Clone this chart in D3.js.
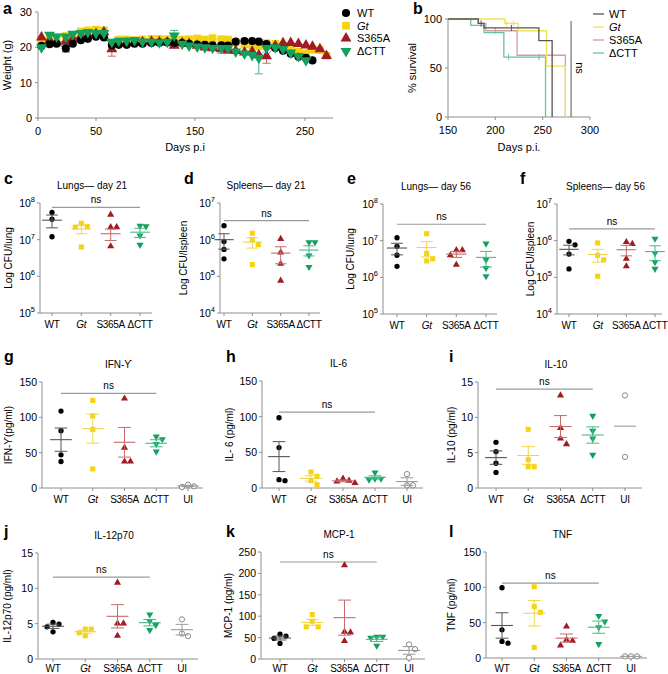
<!DOCTYPE html>
<html>
<head>
<meta charset="utf-8">
<title>Figure</title>
<script src="https://d3js.org/d3.v7.min.js"></script>
<style>
  body { margin: 0; background: #fff; }
  svg { font-family: "Liberation Sans", Arial, Helvetica, sans-serif; }
</style>
</head>
<body>
<svg width="668" height="674" id="mainSvg"></svg>
<script>
// ---------- data ----------
const groups = ["WT", "Gt", "S365A", "ΔCTT"];
const cytoGroups = ["WT", "Gt", "S365A", "ΔCTT", "UI"];

// panel a: body weight
const weightDays = [3, 10, 16, 24, 30, 37, 43, 50, 58, 66, 73, 81, 89, 97, 106, 114, 122, 129, 137, 144,
  152, 159, 166, 174, 180, 187, 195, 202, 208, 215, 223, 230, 237, 244, 251, 258, 266, 273];
const weightWT = [20.4, 20.9, 21.0, 19.7, 21.0, 22.0, 22.4, 23.0, 22.8, 20.6, 20.7, 20.7, 21.0, 21.0, 21.2, 21.3, 21.4, 21.3, 21.2, 21.0,
  20.8, 20.7, 20.6, 20.6, 20.5, 21.6, 21.8, 21.8, 21.6, 20.9, 19.8, 19.0, 18.2, 17.3, 17.0, 16.3, null, null];
const weightGt = [21.5, 22.5, 22.8, 23.2, 23.5, 24.5, 24.8, 25.0, 24.8, 21.0, 22.2, 22.2, 22.0, 22.2, 22.4, 22.4, 22.3, 22.0, 22.2, 22.3,
  22.5, 22.2, 22.6, 22.3, 22.2, 21.4, 20.8, 20.6, 20.3, 21.2, 21.0, 20.4, 19.8, 18.8, 18.2, 19.3, 19.2, 17.6];
const weightS365A = [22.8, 22.0, 21.5, 21.8, 22.5, 23.2, 23.5, 23.8, 24.3, 19.5, 21.0, 21.2, 21.3, 21.5, 21.6, 21.5, 21.4, 20.5, 21.2, 21.0,
  20.5, 20.0, 19.8, 19.5, 19.2, 19.0, 18.6, 18.8, 17.8, 17.5, 20.4, 21.2, 21.3, 21.0, 20.6, 20.2, 19.5, 17.6];
const weightDCTT = [20.0, 23.5, 23.0, 23.0, 23.8, 24.0, 24.3, 24.0, 24.0, 21.5, 21.8, 21.8, 22.0, 21.6, 21.5, 21.4, 21.5, 23.3, 21.0, 20.5,
  20.2, 20.0, 19.8, 19.8, 19.8, 18.8, 18.2, 17.8, 17.0, 19.8, 20.0, 19.5, 18.5, 17.5, 16.3, null, null, null];
// the larger error bars that show in panel a
const errSeries = ["ΔCTT", "S365A", "S365A", "ΔCTT", "WT", "ΔCTT", "ΔCTT", "Gt"];
const errDays = [208, 66, 215, 129, 24, 174, 180, 251];
const errSize = [4.5, 2.0, 2.0, 1.5, 1.0, 1.5, 1.5, 1.0];

// panel b: survival (WT, Gt, S365A, ΔCTT)
const kmDays = [
  [150, 182, 188, 246, 260],
  [150, 210, 224, 254, 274],
  [150, 182, 190, 223, 274],
  [150, 174, 188, 209, 253]
];
const kmPct = [
  [100, 95.5, 91, 78, 0],
  [100, 95.5, 88, 52, 0],
  [100, 95.5, 88, 63, 0],
  [100, 93.5, 86, 61, 0]
];
const censorDays = [[185, 217], [212, 219], [200], [214, 246]];
const censorPct = [[95.5, 91], [95.5, 95.5], [88], [61, 61]];

// panels c-f: CFU
const lung21 = [[5.5e7, 3.6e7, 1.2e7], [2.3e7, 2.2e7, 2.8e7, 6.3e6], [4.8e7, 2.2e7, 2.2e7, 6.6e6], [2.3e7, 2.4e7, 1.3e7, 7.2e6]];
const lung21Mean = [3.4e7, 1.95e7, 1.45e7, 1.6e7];
const lung21Sem = [1.3e7, 0.5e7, 0.5e7, 0.45e7];
const spleen21 = [[2.4e6, 8.9e5, 5.4e5, 3.0e5], [1.5e6, 1.0e6, 7.3e5, 2.1e5], [1.05e6, 4.5e5, 2.2e5, 7.6e4], [8.5e5, 8.5e5, 3.7e5, 1.8e5]];
const spleen21Mean = [1.0e6, 8.6e5, 4.3e5, 5.2e5];
const spleen21Sem = [4.5e5, 2.7e5, 2.1e5, 1.6e5];
const lung56 = [[1.2e7, 7e6, 4e6, 2e6], [1.55e7, 4.5e6, 2.8e6, 3.2e6], [5.5e6, 5.5e6, 4e6, 2.2e6], [8.3e6, 3e6, 1.8e6, 1.07e6]];
const lung56Mean = [6.3e6, 6.5e6, 4.3e6, 3.5e6];
const lung56Sem = [2.2e6, 2.9e6, 0.8e6, 1.6e6];
const spleen56 = [[7.7e5, 9.6e5, 4.3e5, 1.7e5], [8.7e5, 4e5, 3e5, 1.07e5], [8.2e5, 9.2e5, 3.2e5, 2e5], [1.13e6, 4.6e5, 2.6e5, 1.7e5]];
const spleen56Mean = [5.8e5, 4.2e5, 5.65e5, 5.05e5];
const spleen56Sem = [1.7e5, 1.6e5, 1.8e5, 2.2e5];

// panels g-l: cytokines (pg/ml)
const ifng = [[108.8, 81, 47, 37.5], [124, 102, 83, 27], [126.6, 57, 37.5, 37.5], [69, 72.7, 62.3, 51.6], [2.3, 4.7, 1.4]];
const ifngMean = [68.4, 84, 64.7, 63.3, 2.8];
const ifngSem = [16.5, 20.5, 21, 5, 1];
const il6 = [[98.5, 56.7, 10.2, 11.6], [22.3, 16.3, 4.6, 10.2], [13, 10.2, 7, 9.3], [21.8, 11.6, 13, 13], [19.5, 3.7, 3.7]];
const il6Mean = [44, 13.4, 10, 14.9, 9];
const il6Sem = [21, 3.8, 1.3, 2.3, 5.3];
const il10 = [[6.47, 5.16, 3.5, 2.2], [8.3, 4.0, 3.0, 3.0], [13.1, 8.5, 7.0, 6.2], [10.2, 8.1, 7.0, 4.7], [13.1, 4.4]];
const il10Mean = [4.3, 4.6, 8.7, 7.5, 8.75];
const il10Sem = [0.95, 1.25, 1.55, 1.15, null];
const il12 = [[5.17, 4.56, 4.94, 3.85], [4.23, 4.23, 3.7, 3.29], [10.8, 5.03, 5.03, 3.29], [6.3, 5.36, 4.8, 4.1], [5.6, 3.24, 3.6]];
const il12Mean = [4.63, 3.86, 6.04, 5.14, 4.15];
const il12Sem = [0.3, 0.22, 1.65, 0.46, 0.75];
const mcp1 = [[53.5, 58, 48, 36.5], [104, 88, 75, 75], [219, 63.6, 62, 41.9], [52, 49.7, 52, 31], [34, 23, 3]];
const mcp1Mean = [49, 85.5, 96.6, 46, 20];
const mcp1Sem = [4.6, 7, 41, 5, 9];
const tnf = [[99.4, 39.8, 21, 23.4], [100.8, 72.7, 64.7, 15], [44.5, 25.8, 24.4, 17.8], [59.5, 51.6, 43.6, 19.7], [2.3, 2.3, 2.3]];
const tnfMean = [46, 63.3, 28.1, 43.6, 2.3];
const tnfSem = [18, 18, 5.8, 8.6, 0];

// ---------- styles ----------
const markColor = { "WT": "#000", "Gt": "#f4d40f", "S365A": "#a01b22", "ΔCTT": "#12a05c", "UI": "#8a8a8a" };
const barColor = { "WT": "#555", "Gt": "#efd548", "S365A": "#c76a6a", "ΔCTT": "#47b88a", "UI": "#999" };
const kmColor = ["#555", "#f2e255", "#d59c9c", "#66c4a0"];
const axisColor = "#8e8e8e";
const symType = { "WT": d3.symbolCircle, "Gt": d3.symbolSquare, "S365A": d3.symbolTriangle, "ΔCTT": d3.symbolTriangle, "UI": d3.symbolCircle };

const svg = d3.select("#mainSvg");

const addMark = function (g, grp, x, y, size) {
  const p = g.append("path")
    .attr("d", d3.symbol().type(symType[grp]).size(size)())
    .attr("transform", `translate(${x},${y})` + (grp === "ΔCTT" ? " rotate(180)" : ""));
  if (grp === "UI") {
    p.attr("fill", "#fff").attr("stroke", markColor.UI).attr("stroke-width", 1);
  } else {
    p.attr("fill", markColor[grp]);
  }
  return p;
};

const groupText = function (sel, grp) {
  sel.text(grp).attr("font-style", grp === "Gt" ? "italic" : "normal");
};

const letter = function (t, x, y) {
  svg.append("text").attr("x", x).attr("y", y).attr("font-size", 16).attr("font-weight", "bold").text(t);
};

const yTitle = function (t, x, y, fs) {
  svg.append("text").attr("transform", `translate(${x},${y}) rotate(-90)`)
    .attr("text-anchor", "middle").attr("dominant-baseline", "central")
    .attr("font-size", fs || 11).text(t);
};

// ---------- panel a ----------
{
  const x = d3.scaleLinear().domain([0, 50, 150, 250, 280]).range([38, 96, 195, 305, 333]);
  const y = d3.scaleLinear().domain([0, 30]).range([118, 12]);
  const g = svg.append("g");
  g.append("line").attr("x1", 38).attr("x2", 38).attr("y1", y(30)).attr("y2", y(0)).attr("stroke", axisColor);
  g.append("line").attr("x1", 38).attr("x2", x(280)).attr("y1", y(0)).attr("y2", y(0)).attr("stroke", axisColor);
  [0, 10, 20, 30].forEach(v => {
    g.append("line").attr("x1", 35).attr("x2", 38).attr("y1", y(v)).attr("y2", y(v)).attr("stroke", axisColor);
    g.append("text").attr("x", 32).attr("y", y(v) + 4).attr("text-anchor", "end").attr("font-size", 11).text(v);
  });
  [0, 50, 150, 250].forEach(v => {
    g.append("line").attr("x1", x(v)).attr("x2", x(v)).attr("y1", 118).attr("y2", 121).attr("stroke", axisColor);
    g.append("text").attr("x", x(v)).attr("y", 135).attr("text-anchor", "middle").attr("font-size", 11).text(v);
  });
  svg.append("text").attr("x", 185).attr("y", 151).attr("text-anchor", "middle").attr("font-size", 11).text("Days p.i");
  yTitle("Weight (g)", 7, 65);
  letter("a", 3, 14);

  const series = { "WT": weightWT, "Gt": weightGt, "S365A": weightS365A, "ΔCTT": weightDCTT };
  const drawOrder = ["Gt", "S365A", "WT", "ΔCTT"];
  const line = d3.line().defined(d => d[1] != null).x(d => x(d[0])).y(d => y(d[1]));
  drawOrder.forEach(k => {
    const pts = weightDays.map((d, i) => [d, series[k][i]]);
    g.append("path").attr("d", line(pts)).attr("fill", "none")
      .attr("stroke", k === "Gt" ? "#b9a21a" : markColor[k]).attr("stroke-width", 0.8).attr("opacity", 0.7);
  });
  errSeries.forEach((k, i) => {
    const w = series[k][weightDays.indexOf(errDays[i])];
    const cx = x(errDays[i]);
    g.append("line").attr("x1", cx).attr("x2", cx).attr("y1", y(w - errSize[i])).attr("y2", y(w + errSize[i]))
      .attr("stroke", barColor[k]).attr("stroke-width", 1);
    [w - errSize[i], w + errSize[i]].forEach(e => g.append("line").attr("x1", cx - 4).attr("x2", cx + 4)
      .attr("y1", y(e)).attr("y2", y(e)).attr("stroke", barColor[k]).attr("stroke-width", 1));
  });
  drawOrder.forEach(k => {
    weightDays.forEach((d, i) => {
      if (series[k][i] == null) return;
      addMark(g, k, x(d), y(series[k][i]), k === "Gt" ? 60 : 52);
    });
  });
  // legend
  groups.forEach((k, i) => {
    const ly = 13 + i * 12.7;
    addMark(svg, k, 346, ly, k === "Gt" ? 60 : 52);
    svg.append("text").attr("x", 357).attr("y", ly + 4).attr("font-size", 11).call(groupText, k);
  });
}

// ---------- panel b ----------
{
  const x = d3.scaleLinear().domain([150, 300]).range([448, 590]);
  const y = d3.scaleLinear().domain([0, 100]).range([117, 19]);
  const g = svg.append("g");
  g.append("line").attr("x1", 448).attr("x2", 448).attr("y1", y(100)).attr("y2", y(0)).attr("stroke", axisColor);
  g.append("line").attr("x1", 448).attr("x2", x(300)).attr("y1", y(0)).attr("y2", y(0)).attr("stroke", axisColor);
  [0, 50, 100].forEach(v => {
    g.append("line").attr("x1", 445).attr("x2", 448).attr("y1", y(v)).attr("y2", y(v)).attr("stroke", axisColor);
    g.append("text").attr("x", 442).attr("y", y(v) + 4).attr("text-anchor", "end").attr("font-size", 11).text(v);
  });
  [150, 200, 250, 300].forEach(v => {
    g.append("line").attr("x1", x(v)).attr("x2", x(v)).attr("y1", 117).attr("y2", 120).attr("stroke", axisColor);
    g.append("text").attr("x", x(v)).attr("y", 134).attr("text-anchor", "middle").attr("font-size", 11).text(v);
  });
  svg.append("text").attr("x", 519).attr("y", 151).attr("text-anchor", "middle").attr("font-size", 11).text("Days p.i.");
  yTitle("% survival", 412, 68);
  letter("b", 413, 14);

  const step = d3.line().curve(d3.curveStepAfter).x(d => x(d[0])).y(d => y(d[1]));
  [2, 3, 1, 0].forEach(i => {
    const pts = kmDays[i].map((d, j) => [d, kmPct[i][j]]);
    g.append("path").attr("d", step(pts)).attr("fill", "none").attr("stroke", kmColor[i]).attr("stroke-width", 1.3);
    censorDays[i].forEach((d, j) => {
      g.append("line").attr("x1", x(d)).attr("x2", x(d)).attr("y1", y(censorPct[i][j]) - 3).attr("y2", y(censorPct[i][j]) + 3)
        .attr("stroke", kmColor[i]).attr("stroke-width", 1);
    });
  });
  g.append("line").attr("x1", x(280)).attr("x2", x(280)).attr("y1", y(98)).attr("y2", y(0)).attr("stroke", "#555").attr("stroke-width", 1);
  svg.append("text").attr("transform", `translate(${x(280) + 5},${y(50)}) rotate(90)`)
    .attr("text-anchor", "middle").attr("font-size", 11).text("ns");
  groups.forEach((k, i) => {
    const ly = 14 + i * 13;
    svg.append("line").attr("x1", 593).attr("x2", 604).attr("y1", ly).attr("y2", ly).attr("stroke", kmColor[i]).attr("stroke-width", 1.3);
    svg.append("text").attr("x", 609).attr("y", ly + 4).attr("font-size", 11).call(groupText, k);
  });
}

// ---------- dot plots ----------
const swarm = function (vals, yScale, cx, d) {
  const pts = vals.map(v => ({ v: v, py: yScale(v) })).sort((a, b) => a.py - b.py);
  const placed = [];
  pts.forEach(o => {
    for (let k = 0; k < 20; k++) {
      const off = k === 0 ? 0 : (k % 2 ? 1 : -1) * Math.ceil(k / 2) * d;
      if (!placed.some(q => Math.abs(q.py - o.py) < d && Math.abs(q.px - (cx + off)) < d)) { o.px = cx + off; break; }
    }
    placed.push(o);
  });
  return pts;
};

const dotPanel = function (p) {
  const [x0, x1, top, bottom, c0, c1] = p.box;
  const y = p.log ? d3.scaleLog().domain(p.domain).range([bottom, top])
                  : d3.scaleLinear().domain(p.domain).range([bottom, top]);
  const x = d3.scalePoint().domain(p.cats).range([c0, c1]);
  const stepW = x.step();
  const g = svg.append("g");

  g.append("line").attr("x1", x0).attr("x2", x0).attr("y1", top).attr("y2", bottom).attr("stroke", axisColor);
  g.append("line").attr("x1", x0).attr("x2", x1).attr("y1", bottom).attr("y2", bottom).attr("stroke", axisColor);
  p.ticks.forEach(v => {
    g.append("line").attr("x1", x0 - 3).attr("x2", x0).attr("y1", y(v)).attr("y2", y(v)).attr("stroke", axisColor);
    const t = g.append("text").attr("x", x0 - 5).attr("y", y(v) + 4).attr("text-anchor", "end").attr("font-size", 10.5);
    if (p.log) {
      t.text("10");
      t.append("tspan").attr("dy", -5).attr("font-size", 7.5).text(Math.round(Math.log10(v)));
    } else {
      t.text(v);
    }
  });
  p.cats.forEach(c => {
    g.append("line").attr("x1", x(c)).attr("x2", x(c)).attr("y1", bottom).attr("y2", bottom + 3).attr("stroke", axisColor);
    g.append("text").attr("x", x(c)).attr("y", Math.min(bottom + 15, 672)).attr("text-anchor", "middle")
      .attr("font-size", 10).attr("letter-spacing", -0.3).call(groupText, c);
  });
  svg.append("text").attr("x", (x0 + x1) / 2 - 4).attr("y", top - 14).attr("text-anchor", "middle")
    .attr("font-size", 10).text(p.title);
  yTitle(p.yLabel, p.yl, (top + bottom) / 2, 10);
  letter(p.letter, p.lp[0], p.lp[1]);

  // ns bar
  const nsY = y(p.nsAt);
  g.append("line").attr("x1", x("WT")).attr("x2", x("ΔCTT")).attr("y1", nsY).attr("y2", nsY)
    .attr("stroke", "#9a9a9a").attr("stroke-width", 1.2);
  g.append("text").attr("x", (x("WT") + x("ΔCTT")) / 2).attr("y", nsY - 4).attr("text-anchor", "middle")
    .attr("font-size", 10).text("ns");

  // points
  p.cats.forEach((c, i) => {
    swarm(p.vals[i], y, x(c), 6).forEach(o => addMark(g, c, o.px, o.py, c === "Gt" ? 26 : 22));
  });
  // mean and SEM
  p.cats.forEach((c, i) => {
    const cx = x(c), m = p.means[i], s = p.sems[i];
    const col = barColor[c];
    const mw = stepW * 0.34, cw = stepW * 0.2;
    g.append("line").attr("x1", cx - mw).attr("x2", cx + mw).attr("y1", y(m)).attr("y2", y(m))
      .attr("stroke", col).attr("stroke-width", 1.1);
    if (s == null || s === 0) return;
    g.append("line").attr("x1", cx).attr("x2", cx).attr("y1", y(m - s)).attr("y2", y(m + s))
      .attr("stroke", col).attr("stroke-width", 1);
    [m - s, m + s].forEach(e => g.append("line").attr("x1", cx - cw).attr("x2", cx + cw)
      .attr("y1", y(e)).attr("y2", y(e)).attr("stroke", col).attr("stroke-width", 1));
  });
};

const logTicks4 = [1e5, 1e6, 1e7, 1e8];
const logTicks3 = [1e4, 1e5, 1e6, 1e7];

dotPanel({ letter: "c", lp: [4, 184], title: "Lungs— day 21", yLabel: "Log CFU/lung", yl: 8, log: true,
  domain: [1e5, 1e8], ticks: logTicks4, cats: groups, vals: lung21, means: lung21Mean, sems: lung21Sem,
  nsAt: 7.6e7, box: [40, 152, 203, 313, 52, 140] });
dotPanel({ letter: "d", lp: [184, 184], title: "Spleens— day 21", yLabel: "Log CFU/lspleen", yl: 183, log: true,
  domain: [1e4, 1e7], ticks: logTicks3, cats: groups, vals: spleen21, means: spleen21Mean, sems: spleen21Sem,
  nsAt: 3.3e6, box: [220, 320, 203, 313, 224, 309] });
dotPanel({ letter: "e", lp: [347, 184], title: "Lungs— day 56", yLabel: "Log CFU/lung", yl: 350, log: true,
  domain: [1e5, 1e8], ticks: logTicks4, cats: groups, vals: lung56, means: lung56Mean, sems: lung56Sem,
  nsAt: 2.8e7, box: [383, 497, 204, 314, 397, 486] });
dotPanel({ letter: "f", lp: [520, 184], title: "Spleens— day 56", yLabel: "Log CFU/lspleen", yl: 530, log: true,
  domain: [1e4, 1e7], ticks: logTicks3, cats: groups, vals: spleen56, means: spleen56Mean, sems: spleen56Sem,
  nsAt: 2.1e6, box: [557, 662, 204, 314, 569, 655] });

dotPanel({ letter: "g", lp: [4, 362], title: "IFN-ϒ", yLabel: "IFN-ϒ(pg/ml)", yl: 8, log: false,
  domain: [0, 150], ticks: [0, 50, 100, 150], cats: cytoGroups, vals: ifng, means: ifngMean, sems: ifngSem,
  nsAt: 134, box: [42, 203, 382, 488, 61, 188] });
dotPanel({ letter: "h", lp: [226, 362], title: "IL-6", yLabel: "IL- 6 (pg/ml)", yl: 229, log: false,
  domain: [0, 150], ticks: [0, 50, 100, 150], cats: cytoGroups, vals: il6, means: il6Mean, sems: il6Sem,
  nsAt: 106.5, box: [262, 423, 381, 488, 279, 407] });
dotPanel({ letter: "i", lp: [449, 362], title: "IL-10", yLabel: "IL-10 (pg/ml)", yl: 451, log: false,
  domain: [0, 15], ticks: [0, 5, 10, 15], cats: cytoGroups, vals: il10, means: il10Mean, sems: il10Sem,
  nsAt: 14, box: [478, 642, 382, 488, 496, 625] });
dotPanel({ letter: "j", lp: [4, 537], title: "IL-12p70", yLabel: "IL-12p70 (pg/ml)", yl: 7, log: false,
  domain: [0, 15], ticks: [0, 5, 10, 15], cats: cytoGroups, vals: il12, means: il12Mean, sems: il12Sem,
  nsAt: 11.6, box: [38, 198, 553, 659, 53, 182] });
dotPanel({ letter: "k", lp: [226, 537], title: "MCP-1", yLabel: "MCP-1 (pg/ml)", yl: 228, log: false,
  domain: [0, 250], ticks: [0, 50, 100, 150, 200, 250], cats: cytoGroups, vals: mcp1, means: mcp1Mean, sems: mcp1Sem,
  nsAt: 226.6, box: [261, 425, 552, 659, 280, 409] });
dotPanel({ letter: "l", lp: [449, 537], title: "TNF", yLabel: "TNF (pg/ml)", yl: 451, log: false,
  domain: [0, 150], ticks: [0, 50, 100, 150], cats: cytoGroups, vals: tnf, means: tnfMean, sems: tnfSem,
  nsAt: 106, box: [486, 647, 552, 658, 502, 631] });
</script>
</body>
</html>
